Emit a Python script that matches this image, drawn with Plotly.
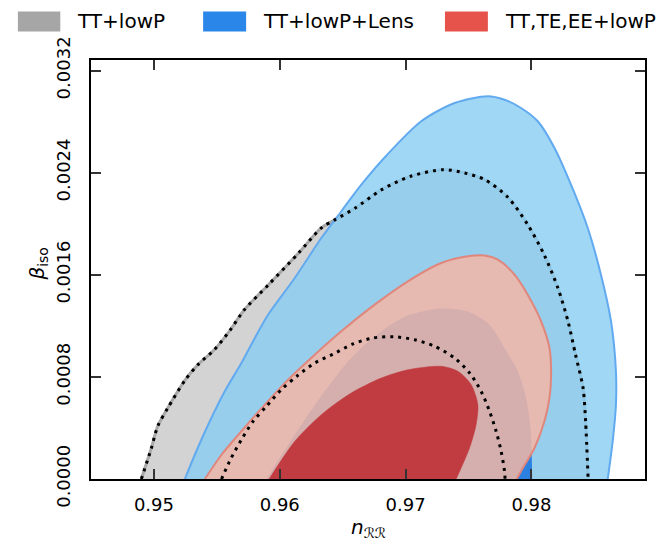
import plotly.graph_objects as go

# ---- data ----
# TT+lowP, 95% contour (grey, dotted)
grey95_x = [0.9490, 0.9498, 0.9503, 0.9511, 0.9525, 0.9535, 0.9548, 0.95606, 0.95717, 0.9591,
            0.9615, 0.9633, 0.9644, 0.9660, 0.9681, 0.9704, 0.9730, 0.9747, 0.9763, 0.9781,
            0.9797, 0.9810, 0.9821, 0.9829, 0.9835, 0.9841, 0.9843, 0.9845]
grey95_y = [0.0, 0.000243, 0.000413, 0.000556, 0.000778, 0.000896, 0.001013, 0.001167, 0.001324, 0.001522,
            0.001771, 0.001967, 0.002032, 0.002123, 0.002267, 0.002372, 0.002424, 0.002398, 0.002345, 0.00221,
            0.001993, 0.001758, 0.001497, 0.001236, 0.000974, 0.000713, 0.000452, 0.0]

# TT+lowP, 68% contour (dotted)
grey68_x = [0.95537, 0.95611, 0.95695, 0.95788, 0.95894, 0.96013, 0.9614, 0.96278, 0.96425, 0.96582,
            0.9674, 0.96907, 0.97071, 0.9723, 0.97389, 0.97508, 0.9760, 0.97667, 0.97719, 0.97759,
            0.97786, 0.9779]
grey68_y = [0.0, 0.000159, 0.000308, 0.000452, 0.00057, 0.0007, 0.000809, 0.000909, 0.000979, 0.001058,
            0.001105, 0.001115, 0.001091, 0.00104, 0.000948, 0.000831, 0.000687, 0.00053, 0.000374, 0.000217,
            0.00006, 0.0]

# TT+lowP+Lens, 95% contour
blue95_x = [0.95246, 0.95325, 0.95431, 0.95563, 0.95695, 0.95802, 0.95907, 0.96119, 0.9633, 0.96489,
            0.96648, 0.96844, 0.97124, 0.97389, 0.97653, 0.97786, 0.97917, 0.9805, 0.98183, 0.98314,
            0.98447, 0.98552, 0.98632, 0.98671, 0.98671, 0.98645, 0.98606]
blue95_y = [0.0, 0.00019, 0.000425, 0.000687, 0.000909, 0.001105, 0.001287, 0.001575, 0.001888, 0.002098,
            0.002306, 0.002531, 0.002803, 0.002946, 0.002999, 0.002972, 0.002907, 0.002803, 0.002594, 0.002306,
            0.001967, 0.001601, 0.001236, 0.000844, 0.000582, 0.000295, 0.0]

# TT+lowP+Lens, 68% contour
blue68_x = [0.95894, 0.96119, 0.96357, 0.96568, 0.96806, 0.97018, 0.97283, 0.97494, 0.97665, 0.97786,
            0.97891, 0.97957, 0.97992, 0.98002, 0.98005]
blue68_y = [0.0, 0.000347, 0.000687, 0.000948, 0.001157, 0.001281, 0.001336, 0.001312, 0.001211, 0.001026,
            0.000844, 0.000635, 0.0004, 0.00019, 0.0]

# TT,TE,EE+lowP, 95% contour
red95_x = [0.95405, 0.95537, 0.95695, 0.95881, 0.96066, 0.96278, 0.96489, 0.96754, 0.97018, 0.97283,
           0.97494, 0.97627, 0.97733, 0.97865, 0.9797, 0.98076, 0.98143, 0.98156, 0.98143, 0.98103,
           0.98024, 0.97931, 0.97883]
red95_y = [0.0, 0.00019, 0.000374, 0.000582, 0.000778, 0.000974, 0.001157, 0.001366, 0.001549, 0.001692,
           0.001745, 0.001751, 0.001718, 0.001601, 0.001444, 0.001236, 0.001026, 0.000817, 0.000635, 0.000452,
           0.000243, 0.000086, 0.0]

# TT,TE,EE+lowP, 68% contour
red68_x = [0.95915, 0.96119, 0.9633, 0.96568, 0.96806, 0.97018, 0.97283, 0.97415, 0.97521, 0.97574,
           0.9756, 0.97508, 0.97441, 0.97402]
red68_y = [0.0, 0.000295, 0.000504, 0.000674, 0.000791, 0.000856, 0.000883, 0.000844, 0.000739, 0.000582,
           0.000425, 0.000243, 0.000086, 0.0]

legend_labels = ["TT+lowP", "TT+lowP+Lens", "TT,TE,EE+lowP"]
legend_colors = ["#a6a6a6", "#2b86ea", "#e5534b"]

x_ticks = [0.95, 0.96, 0.97, 0.98]
y_ticks = [0.0, 0.0008, 0.0016, 0.0024, 0.0032]

FONT = "DejaVu Sans"

fig = go.Figure()

def region(x, y, fillcolor, linecolor, lw):
    fig.add_trace(go.Scatter(x=x, y=y, mode="lines", fill="toself", fillcolor=fillcolor,
                             line=dict(color=linecolor, width=lw, shape="spline", smoothing=0.8),
                             hoverinfo="skip", showlegend=False))

region(grey95_x, grey95_y, "#d3d3d3", "#a8a8a8", 3)
region(blue95_x, blue95_y, "rgba(135,205,242,0.8)", "#62aaf0", 2)
region(blue68_x, blue68_y, "#2b80e0", "rgba(0,0,0,0)", 0)
region(red95_x, red95_y, "rgba(245,182,165,0.84)", "#e0867c", 2)
region(red68_x, red68_y, "#c03c41", "#c03c41", 0.5)

for xs, ys in [(grey95_x, grey95_y), (grey68_x, grey68_y)]:
    fig.add_trace(go.Scatter(x=xs, y=ys, mode="lines",
                             line=dict(color="black", width=3, dash="3px,5px",
                                       shape="spline", smoothing=0.8),
                             hoverinfo="skip", showlegend=False))

# legend (patches + text)
patch_x = [(-0.132, -0.0554), (0.2024, 0.2800), (0.6389, 0.7164)]
text_x = [-0.0282, 0.3071, 0.7434]
for (x0, x1), tx, lab, col in zip(patch_x, text_x, legend_labels, legend_colors):
    fig.add_shape(type="rect", xref="paper", yref="paper", x0=x0, x1=x1, y0=1.068, y1=1.116,
                  fillcolor=col, line=dict(width=0))
    fig.add_annotation(xref="paper", yref="paper", x=tx, y=1.092, text=lab, showarrow=False,
                       xanchor="left", yanchor="middle", font=dict(family=FONT, size=20, color="black"))

# axis titles
fig.add_annotation(xref="paper", yref="paper", x=0.5, y=-0.117, text="<i>n</i><sub>ℛℛ</sub>",
                   showarrow=False, xanchor="center", yanchor="middle",
                   font=dict(family=FONT, size=20, color="black"))
fig.add_annotation(xref="paper", yref="paper", x=-0.095, y=0.515, text="<i>β</i><sub>iso</sub>",
                   showarrow=False, xanchor="center", yanchor="middle", textangle=-90,
                   font=dict(family=FONT, size=20, color="black"))

axis_common = dict(showline=True, linecolor="black", linewidth=2, mirror="allticks",
                   ticks="inside", ticklen=10, tickwidth=1.5, tickcolor="#333",
                   showgrid=False, zeroline=False, automargin=False,
                   tickfont=dict(family=FONT, size=18, color="black"))

fig.update_xaxes(range=[0.945, 0.98902], tickvals=x_ticks, ticktext=[f"{v:.2f}" for v in x_ticks],
                 ticklabelstandoff=8, **axis_common)
fig.update_yaxes(range=[0.0, 0.003283], tickvals=y_ticks, ticktext=[f"{v:.4f}" for v in y_ticks],
                 tickangle=-90, ticklabelstandoff=12, **axis_common)

fig.update_layout(width=668, height=540, margin=dict(l=83, r=31, t=52, b=69, autoexpand=False),
                  plot_bgcolor="white", paper_bgcolor="white",
                  font=dict(family=FONT, size=18, color="black"))

fig.write_html("out.html")
